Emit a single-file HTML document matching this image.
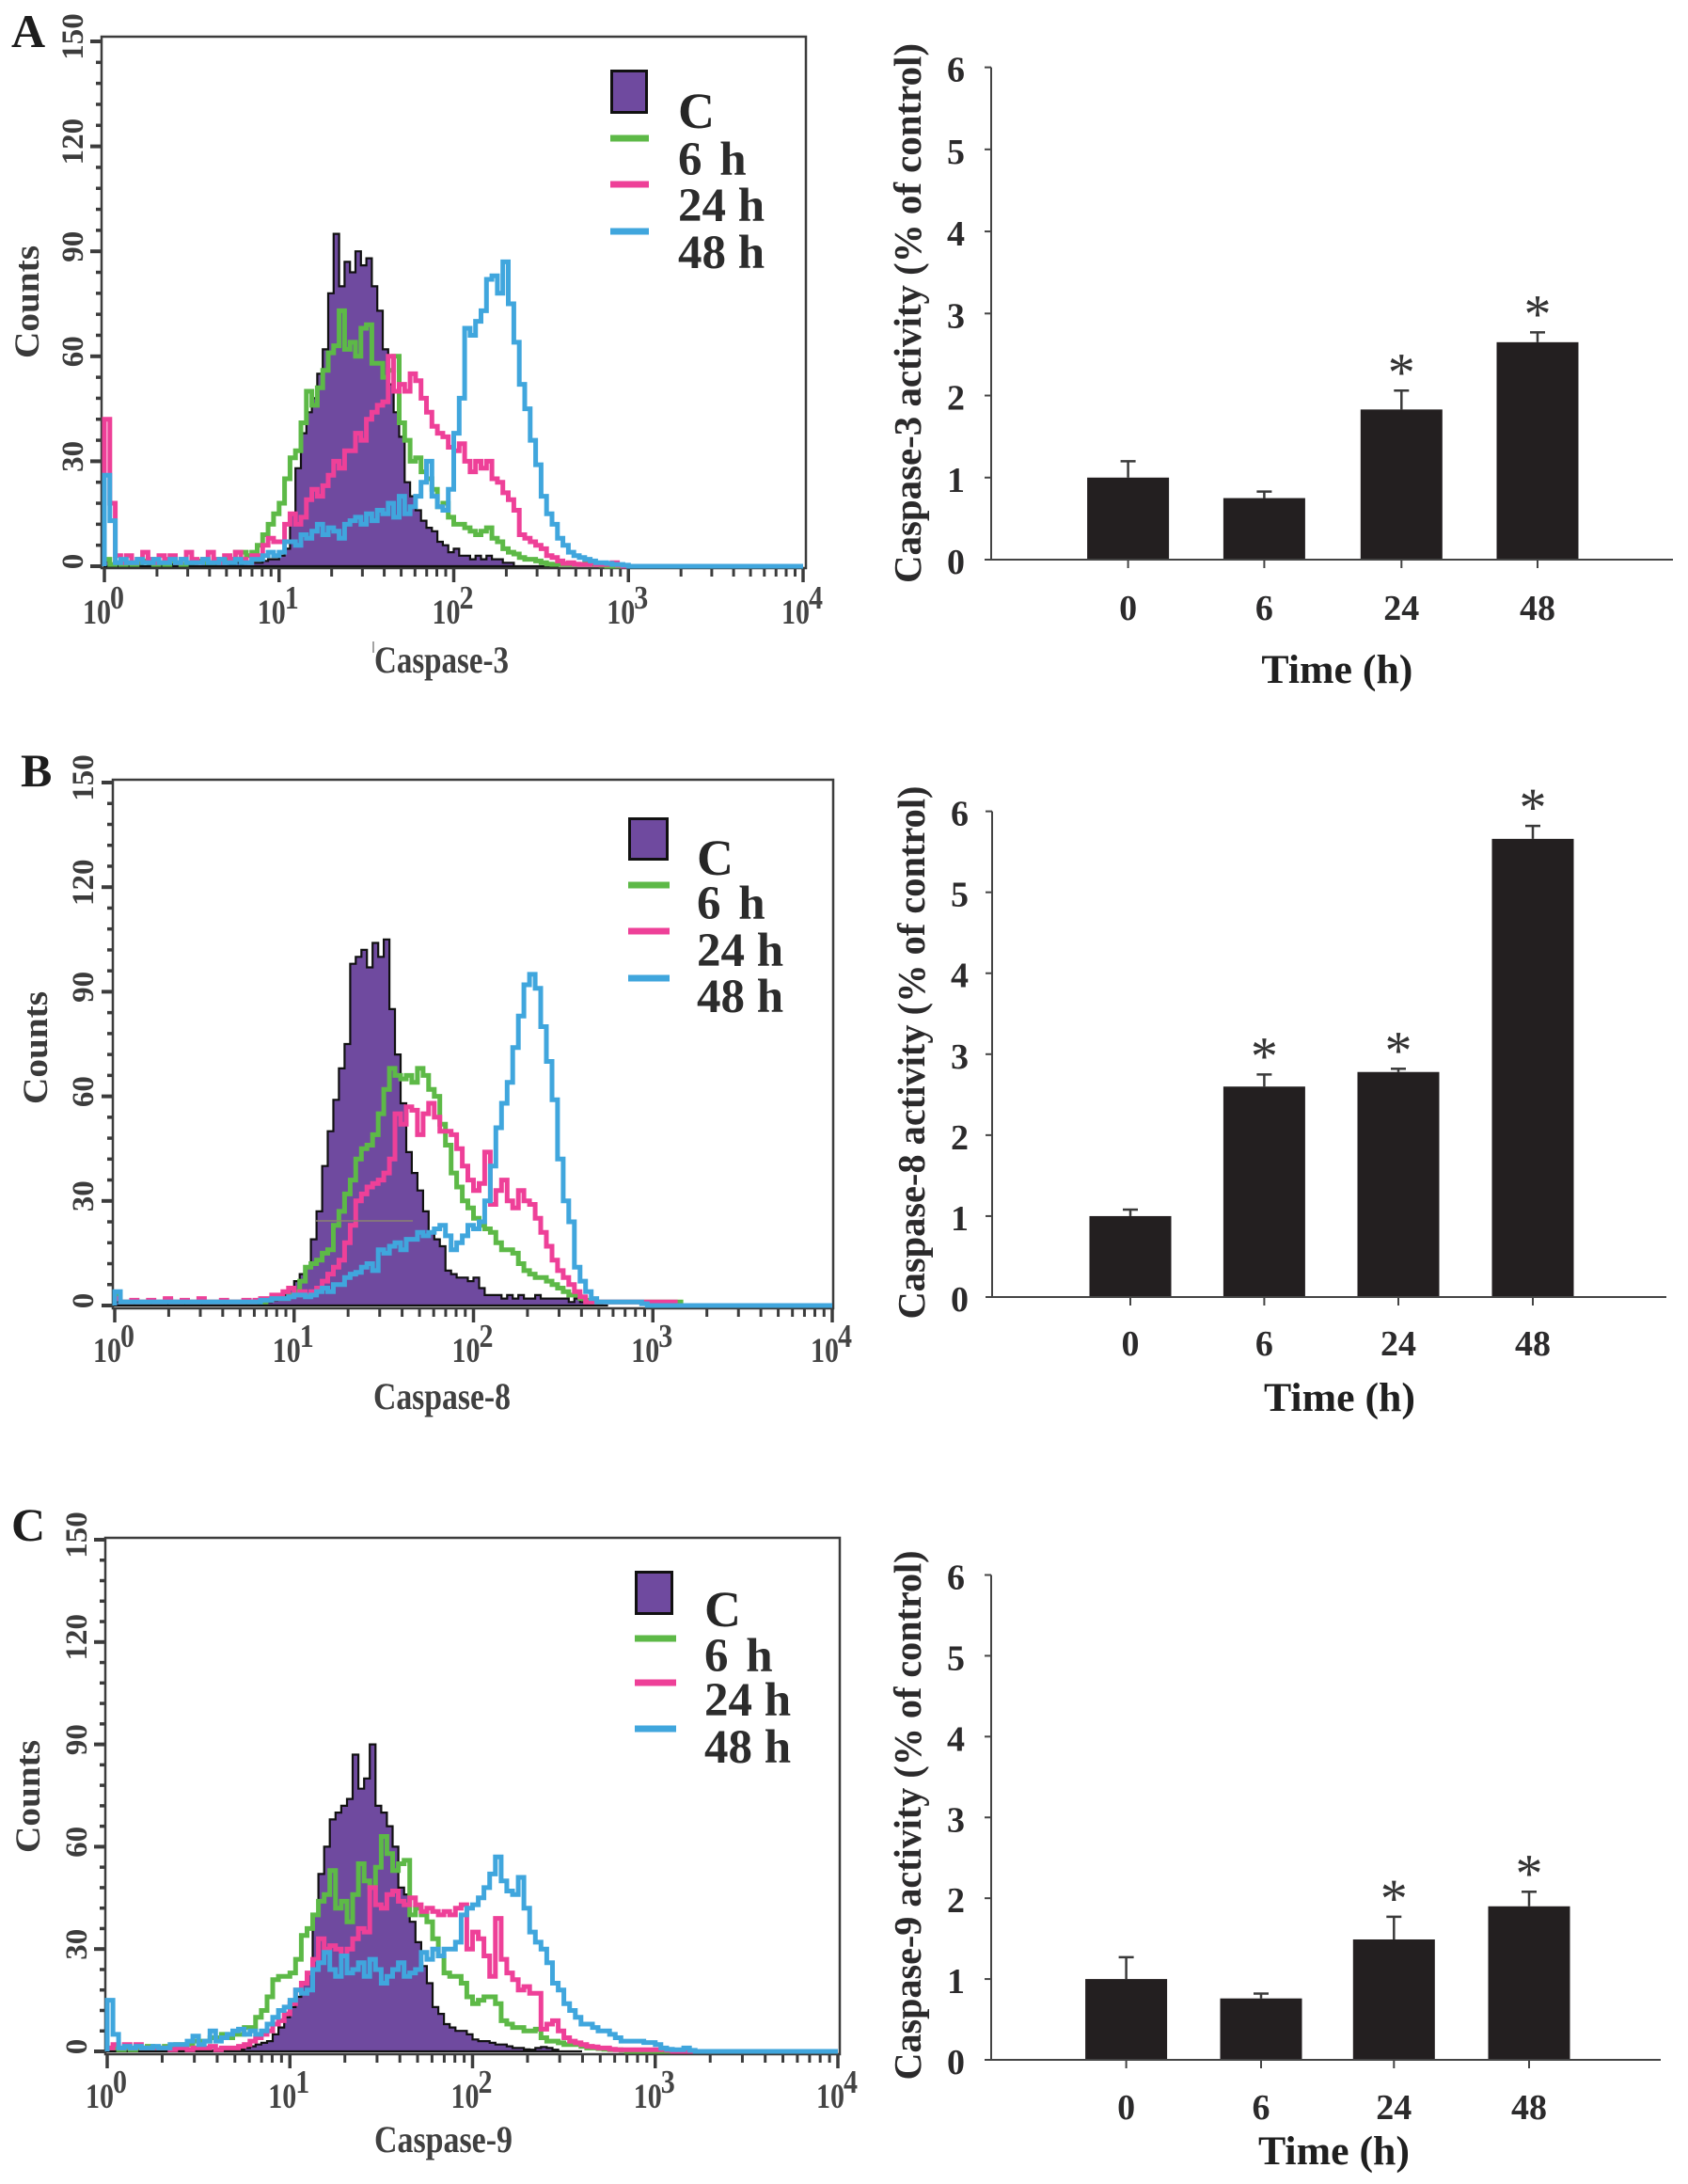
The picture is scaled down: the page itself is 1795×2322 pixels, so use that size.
<!DOCTYPE html>
<html lang="en">
<head>
<meta charset="utf-8">
<title>Caspase activity flow cytometry and bar charts</title>
<style>
html,body{margin:0;padding:0;background:#fff;}
svg{display:block;}
text{font-family:"Liberation Serif","Times New Roman",serif;}
</style>
</head>
<body>
<svg id="figure" xmlns="http://www.w3.org/2000/svg" width="1795" height="2322" viewBox="0 0 1795 2322"></svg>
<script>
/* Histogram counts per channel bin (32 bins per decade) */
const caspase3Control = [1.5,.5,.5,.5,0,.5,.5,0,.5,.5,.5,0,.5,.5,0,.5,.5,0,.5,.5,.5,.5,1,.5,1,.5,1,1,1,1.5,2,2,3,5,15,28,38,44,48,55,62,78,95,80,87,84,90,86,88,80,73,62,52,44,37,24,20,16,13,11,10,7,6,4,5,3,3,2,3,2,3,2,2,1,1,0];
const caspase3H6 = [2,.5,1,.5,1,.5,1,1.5,1,.5,1,.5,1.5,1,.5,1,1,1.5,1,1,1.5,1,2,2,4,4,3,4,6,9,12,15,18,25,31,33,41,50,46,51,56,61,63,73,62,64,60,68,69,58,58,54,56,60,41,36,30,31,27,25,22,17,18,14,12,12,11,10,9,10,11,8,7,5,4,3.5,2.5,2,2,1.5,1,.6,.5,.5,.5,.5,.5,.5,1,.5,.5,.3,0];
const caspase3H24 = [42,18,3,1,3,1,2,4,2,1,3,2,3,1,2,4,2,1,2,4,2,1,3,2,4,2,1,3,3,6,8,7,7,12,15,12,14,19,22,20,23,26,30,28,33,33,38,36,42,44,46,47,60,50,52,50,55,53,48,44,40,38,37,34,33,35,30,27,30,28,30,25,24,21,19,16,9,8,7,6,5,3,2.5,1.5,.8,1,.6,.5,.5,1,.5,.5,.5,1,.3,0];
const caspase3H48 = [26,13,1,2,1,1,2,1,1,2,1,1,2,1,2,1,1,1,2,1,1,2,1,1,2,1,1,2,2,3,4,3,4,7,7,6,9,8,10,12,9,11,10,8,12,13,14,12,15,13,16,15,18,14,20,15,17,20,24,30,20,17,16,22,38,48,68,66,70,73,82,83,78,87,75,64,52,45,36,29,20,15,12,8,6,4,3,2.5,2,1.5,1,1,.8,.5,.5,.3,0];

const caspase8Control = [1,.5,.5,.5,.5,.5,.5,.5,.5,.5,.5,.5,.5,.5,.5,.5,.5,.5,.5,.5,.5,.5,.5,.5,.5,.5,1,1,1.5,2,3,5,7,9,11,19,27,40,50,59,68,75,98,100,102,97,104,100,105,85,72,58,44,38,33,27,21,19,17,10,9,8,8,7,8,5,3,3,3,2,3,2,3,2,2,3,2,2,2,2,2,1,2,1,1,1,.5,0];
const caspase8H6 = [3,1,1,1,1,1,1,1,1,1.5,1,1,1,1,1,1,1,1,1,1,1,1,1,1,1,1,1,1.5,2,2,2,3,4,7,11,12,13,15,16,23,27,32,36,42,45,46,49,55,62,68,66,65,66,64,68,66,62,60,52,46,38,34,30,28,25,23,22,21,18,16,16,15,12,10,9,8,8,7,6,5,4,3,3,2,1.5,1,1,1,1,1,1,1,1,1,1,1,1,1,1,1,1,0];
const caspase8H24 = [2,1,1,1.5,1,1,1.5,1,1,2,1,1,1.5,1,1,2,1,1,1,1.5,1,1,1,1.5,1,1.5,2,2,3,3,4,5,3,4,3,4,5,7,9,11,13,18,23,30,32,34,35,36,38,42,55,52,57,56,49,55,58,54,50,50,49,45,40,36,33,35,44,29,33,36,30,28,33,30,29,25,21,17,13,10,8,6,4,2.5,1,1,1,1,1,1,1,1,1,1,1,1,1,1,1,1,0];
const caspase8H48 = [4,1,1,1,1,1,1,1,1,1,1,1,1,1,1,1,1,1,1,1,1,1,1,1,1,1,1.5,1.5,2,2,2,2.5,3,3,2.5,3,4,5,4,6,6,8,9,9.5,11,12,10,16,15,17,18,16,19,19,21,20,21,22,23,20,16,18,20,23,22,24,30,40,51,58,64,74,83,92,95,91,80,70,59,42,30,24,11,7,4,2,1,1,1,1,1,1,1,1,.5,0];

const caspase9Control = [.3,.3,.3,.3,.3,.3,.3,.3,.3,.3,.3,.3,.3,.3,.3,.3,.3,.3,.3,.3,.5,.5,.5,.6,1,1.5,2,2.5,3,5,7,10,13,16,20,23,40,52,60,68,70,72,74,87,77,80,90,72,70,66,60,48,46,38,32,25,20,13,11,8,7,6,6,5,3.5,3,3,2.5,2,2,1.5,1,1,.6,.5,1,1.3,1,.5,0];
const caspase9H6 = [1,1,.5,1,.5,1,1,1.5,1,1,1.5,1,2,2,2,3,3,3,4,4,5,4,5,5,7,7,10,12,16,21,22,22,23,27,34,36,40,44,46,53,42,44,38,46,55,50,48,54,63,58,53,55,56,40,42,40,38,33,28,23,22,22,20,16,14,15,16,16,14,9,8,7,7,6,6,6.5,4,3,3,2.5,2,2,2,1.5,1,1,.8,.6,.5,.5,.3,0];
const caspase9H24 = [1,2,1,2,1,2,1,1,1,1,1,.5,1,1,.5,1,1,1,1.5,.5,1,1,1,1.5,2,3,4,5,6,8,9,11,14,18,20,23,27,33,30,31,30,28,30,33,36,35,48,43,42,46,47,44,43,45,43,41,42,41,40,41,40,42,43,30,35,33,28,22,39,27,23,21,18,19,17,17,6.5,8,9,6,4,3,2.5,2,1.5,1.3,1,1,.6,.5,.5,.5,.5,.5,.5,.5,.5,.6,.3,0];
const caspase9H48 = [15,5,1,1.5,1,1.5,1,1,1.5,1,1,2,2,2,3,4.5,2,3,6,3,4,5,6,6.5,5,6,5,6,8,10,12,13,15,18,17,18,24,26,29,24,22,28,23,24,26,22,27,24,20,22,24,26,22,23,24,29,27,30,28,30,30,32,40,42,43,45,48,52,57,50,47,46,51,42,35,32,30,26,20,18,14,12,10,8,8,7,6,6,5,4,3,3,3,3,2.6,2.6,2,1,.6,.5,.5,1,.3,0];

/* Bar chart values */
const timeCategories = ["0","6","24","48"];
const caspase3Activity = [1.0,0.75,1.83,2.65];
const caspase3ErrorTop = [1.2,0.83,2.06,2.77];
const caspase3Starred = [false,false,true,true];
const caspase8Activity = [1.0,2.6,2.78,5.66];
const caspase8ErrorTop = [1.08,2.75,2.82,5.82];
const caspase8Starred = [false,true,true,true];
const caspase9Activity = [1.0,0.76,1.49,1.9];
const caspase9ErrorTop = [1.27,0.82,1.77,2.08];
const caspase9Starred = [false,false,true,true];

/* Tick labels */
const countTicks = [0,30,60,90,120,150];
const decadeExponents = [0,1,2,3,4];
const activityTicks = [0,1,2,3,4,5,6];
const legendLabels = ["6 h","24 h","48 h"];

const NS = "http://www.w3.org/2000/svg";
const root = document.getElementById("figure");
const INK = "#2b2a2b";
const GREEN = "#5db947", PINK = "#ee4098", BLUE = "#40a6dd", PURPLE = "#6f4a9f";

function mk(tag, attrs, parent, txt) {
  const el = document.createElementNS(NS, tag);
  for (const k in attrs) el.setAttribute(k, attrs[k]);
  if (txt !== undefined) el.textContent = txt;
  parent.appendChild(el);
  return el;
}

function stepPath(values, xOf, yOf, xEnd) {
  let d = "M" + xOf(0).toFixed(1) + "," + yOf(0).toFixed(1);
  values.forEach(function (v, i) {
    d += "L" + xOf(i).toFixed(1) + "," + yOf(v).toFixed(1);
    d += "L" + xOf(i + 1).toFixed(1) + "," + yOf(v).toFixed(1);
  });
  d += "L" + xEnd.toFixed(1) + "," + yOf(0).toFixed(1);
  return d;
}

function drawFlow(p) {
  const g = mk("g", {}, root);
  
  
  const xOf = function (bin) { return p.x0 + (bin / 32) * (p.x4 - p.x0) / 4; };
  const xDec = function (d) { return p.x0 + d * (p.x4 - p.x0) / 4; };
  const yOf = function (c) { return p.y0 + (c / 150) * (p.y150 - p.y0); };

  const letter = mk("text", {x: p.letterX, y: p.letterY, "font-size": 50, "font-weight": "bold", fill: "#1d1d1d"}, g, p.letter);
  
  

  const frame = mk("rect", {x: p.fl, y: p.ft, width: p.fr - p.fl, height: p.fb - p.ft, fill: "#fff", stroke: "#3c3c3c", "stroke-width": 2.5}, g);
  
  

  /* y ticks */
  for (let c = 0; c <= 150; c += 6) {
    const major = c % 30 === 0;
    const t = mk("line", {x1: p.fl - (major ? 12 : 6), x2: p.fl, y1: yOf(c), y2: yOf(c), stroke: "#3c3c3c", "stroke-width": major ? 4 : 3.5}, g);
    
    
  }
  countTicks.forEach(function (c) {
    const s = String(c);
    const yc = yOf(c) - 5;
    const t = mk("text", {
      transform: "translate(" + (p.yLabelX + 11) + "," + yc + ") rotate(-90)",
      "text-anchor": "middle", "font-size": 33, "font-weight": "bold", fill: "#3c3c3c"
    }, g, s);
    
    
  });

  /* x ticks */
  for (let d = 0; d <= 4; d++) {
    const t = mk("line", {x1: xDec(d), x2: xDec(d), y1: p.fb, y2: p.fb + 15, stroke: "#3c3c3c", "stroke-width": 3.5}, g);
    
    
    if (d < 4) {
      for (let m = 2; m <= 9; m++) {
        const mx = xDec(d + Math.log10(m));
        const mt = mk("line", {x1: mx, x2: mx, y1: p.fb, y2: p.fb + 9, stroke: "#3c3c3c", "stroke-width": 3}, g);
        
        
      }
    }
  }
  decadeExponents.forEach(function (e) {
    const tx = xDec(e);
    const base = mk("text", {x: tx - 23, y: p.xLabelY, "font-size": 37, "font-weight": "bold", fill: "#444", textLength: 30, lengthAdjust: "spacingAndGlyphs"}, g, "10");
    
    
    const sup = mk("text", {x: tx + 6, y: p.xLabelY - 16, "font-size": 35, "font-weight": "bold", fill: "#444", textLength: 15, lengthAdjust: "spacingAndGlyphs"}, g, String(e));
    
    
  });

  /* marks */
  const area = mk("path", {d: stepPath(p.control, xOf, yOf, xDec(2.6)) + "Z", fill: PURPLE, stroke: "#111", "stroke-width": 2.2, "stroke-linejoin": "miter"}, g);
  
  
  const h6 = mk("path", {d: stepPath(p.h6, xOf, yOf, xDec(4)), fill: "none", stroke: GREEN, "stroke-width": 5}, g);
  
  
  const h24 = mk("path", {d: stepPath(p.h24, xOf, yOf, xDec(4)), fill: "none", stroke: PINK, "stroke-width": 5}, g);
  
  
  const h48 = mk("path", {d: stepPath(p.h48, xOf, yOf, xDec(4)), fill: "none", stroke: BLUE, "stroke-width": 5}, g);
  
  

  /* titles */
  const counts = mk("text", {
    transform: "translate(" + p.countsX + "," + p.countsY + ") rotate(-90)",
    "text-anchor": "middle", "font-size": 37, "font-weight": "bold", fill: "#3a3a3a",
    textLength: 120, lengthAdjust: "spacingAndGlyphs"
  }, g, "Counts");
  
  
  const xt = mk("text", {x: p.titleX, y: p.titleY, "font-size": 40, "font-weight": "bold", fill: "#404040", textLength: p.titleW, lengthAdjust: "spacingAndGlyphs"}, g, p.title);
  
  

  /* legend */
  const sw = mk("rect", {x: p.swX + 1.5, y: p.swY + 1.5, width: p.swW - 3, height: p.swH - 3, fill: PURPLE, stroke: "#111", "stroke-width": 3}, g);
  
  
  const cl = mk("text", {x: p.legX, y: p.legC, "font-size": 54, "font-weight": "bold", fill: "#262626"}, g, "C");
  
  
  [GREEN, PINK, BLUE].forEach(function (col, i) {
    const ln = mk("rect", {x: p.swX, y: p.legLines[i] - 3.5, width: p.lineW, height: 7, fill: col}, g);
    
    
    const lb = mk("text", {x: p.legX, y: p.legTexts[i], "font-size": 51, "font-weight": "bold", fill: "#2c2c2c", "word-spacing": i === 0 ? 6 : 0}, g, legendLabels[i]);
    
    
  });
}

function drawBars(p) {
  const g = mk("g", {}, root);
  
  
  const yOf = function (v) { return p.y0 + (v / 6) * (p.y6 - p.y0); };
  const barW = 87;

  p.centers.forEach(function (cx, i) {
    const er = mk("line", {x1: cx, x2: cx, y1: yOf(p.values[i]), y2: yOf(p.errors[i]), stroke: "#3a3a3a", "stroke-width": 2.5}, g);
    
    
    const cap = mk("line", {x1: cx - 8, x2: cx + 8, y1: yOf(p.errors[i]), y2: yOf(p.errors[i]), stroke: "#3a3a3a", "stroke-width": 2.5}, g);
    
    
    const bar = mk("rect", {x: cx - barW / 2, y: yOf(p.values[i]), width: barW, height: p.y0 - yOf(p.values[i]), fill: "#231f20"}, g);
    
    
    if (p.starred[i]) {
      const st = mk("text", {x: cx, y: yOf(p.errors[i]) - p.starGap + 27, "text-anchor": "middle", "font-size": 58, fill: "#333"}, g, "*");
      
      
    }
    const tk = mk("line", {x1: cx, x2: cx, y1: p.y0, y2: p.y0 + 9, stroke: "#444", "stroke-width": 2}, g);
    
    
    const lb = mk("text", {x: cx, y: p.xLabelY, "text-anchor": "middle", "font-size": 38, "font-weight": "bold", fill: INK}, g, timeCategories[i]);
    
    
  });

  const ya = mk("line", {x1: p.ax, x2: p.ax, y1: p.y6, y2: p.y0, stroke: "#444", "stroke-width": 2}, g);
  
  
  const xa = mk("line", {x1: p.ax - 7, x2: p.axEnd, y1: p.y0, y2: p.y0, stroke: "#444", "stroke-width": 2}, g);
  
  

  activityTicks.forEach(function (v) {
    const t = mk("line", {x1: p.ax - 7, x2: p.ax, y1: yOf(v), y2: yOf(v), stroke: "#444", "stroke-width": 2}, g);
    
    
    const l = mk("text", {x: p.tickRight, y: yOf(v) + 15, "text-anchor": "end", "font-size": 38, "font-weight": "bold", fill: INK}, g, String(v));
    
    
  });

  const yt = mk("text", {
    transform: "translate(" + p.titleBase + "," + p.titleMid + ") rotate(-90)",
    "text-anchor": "middle", "font-size": 41, "font-weight": "bold", fill: INK,
    textLength: p.titleLen, lengthAdjust: "spacingAndGlyphs"
  }, g, p.title);
  
  
  const xt = mk("text", {x: p.timeX, y: p.timeY, "font-size": 43, "font-weight": "bold", fill: "#1f1f1f", textLength: 161, lengthAdjust: "spacingAndGlyphs"}, g, "Time (h)");
  
  
}

drawFlow({key: "caspase-3", letter: "A", letterX: 12, letterY: 50,
  fl: 108, ft: 39, fr: 857, fb: 604, x0: 111, x4: 854, y0: 602, y150: 44,
  control: caspase3Control, h6: caspase3H6, h24: caspase3H24, h48: caspase3H48,
  yLabelX: 77, xLabelY: 663, countsX: 41, countsY: 321,
  title: "Caspase-3", titleX: 398, titleY: 715, titleW: 143,
  swX: 649, swY: 74, swW: 40, swH: 47, lineW: 41, legX: 721, legC: 136,
  legLines: [147, 196, 246], legTexts: [186, 235, 285]});
drawFlow({key: "caspase-8", letter: "B", letterX: 22, letterY: 836,
  fl: 120, ft: 829, fr: 886, fb: 1391, x0: 122, x4: 885, y0: 1388, y150: 832,
  control: caspase8Control, h6: caspase8H6, h24: caspase8H24, h48: caspase8H48,
  yLabelX: 88, xLabelY: 1448, countsX: 50, countsY: 1114,
  title: "Caspase-8", titleX: 397, titleY: 1498, titleW: 146,
  swX: 668, swY: 869, swW: 43, swH: 46, lineW: 44, legX: 741, legC: 930,
  legLines: [941, 990, 1040], legTexts: [977, 1027, 1076]});
drawFlow({key: "caspase-9", letter: "C", letterX: 12, letterY: 1638,
  fl: 112, ft: 1635, fr: 893, fb: 2184, x0: 114, x4: 891, y0: 2181, y150: 1637,
  control: caspase9Control, h6: caspase9H6, h24: caspase9H24, h48: caspase9H48,
  yLabelX: 81, xLabelY: 2241, countsX: 42, countsY: 1910,
  title: "Caspase-9", titleX: 398, titleY: 2288, titleW: 147,
  swX: 675, swY: 1670, swW: 41, swH: 47, lineW: 44, legX: 749, legC: 1729,
  legLines: [1742, 1789, 1838], legTexts: [1777, 1824, 1874]});

const strayMark = mk("line", {x1: 397, x2: 397, y1: 682, y2: 694, stroke: "#666", "stroke-width": 1.2}, root);


const markerLine = mk("line", {x1: 336, x2: 439, y1: 1298, y2: 1298, stroke: "#8c8272", "stroke-width": 1.5}, root);



drawBars({key: "caspase-3", title: "Caspase-3 activity (% of control)",
  values: caspase3Activity, errors: caspase3ErrorTop, starred: caspase3Starred,
  centers: [1199.6, 1344.4, 1490.3, 1635], ax: 1054, axEnd: 1779, y0: 595, y6: 71.6,
  tickRight: 1026, xLabelY: 659, titleBase: 979, titleMid: 333, titleLen: 574,
  timeX: 1341.4, timeY: 726, starGap: 27});
drawBars({key: "caspase-8", title: "Caspase-8 activity (% of control)",
  values: caspase8Activity, errors: caspase8ErrorTop, starred: caspase8Starred,
  centers: [1202, 1344.4, 1487, 1630], ax: 1055, axEnd: 1772, y0: 1379, y6: 862.6,
  tickRight: 1030, xLabelY: 1441, titleBase: 983, titleMid: 1119, titleLen: 567,
  timeX: 1344, timeY: 1500, starGap: 27});
drawBars({key: "caspase-9", title: "Caspase-9 activity (% of control)",
  values: caspase9Activity, errors: caspase9ErrorTop, starred: caspase9Starred,
  centers: [1197.6, 1341, 1482.3, 1626], ax: 1054, axEnd: 1766, y0: 2190, y6: 1674.5,
  tickRight: 1026, xLabelY: 2253, titleBase: 979, titleMid: 1930, titleLen: 563,
  timeX: 1338, timeY: 2301, starGap: 27});
</script>
</body>
</html>
